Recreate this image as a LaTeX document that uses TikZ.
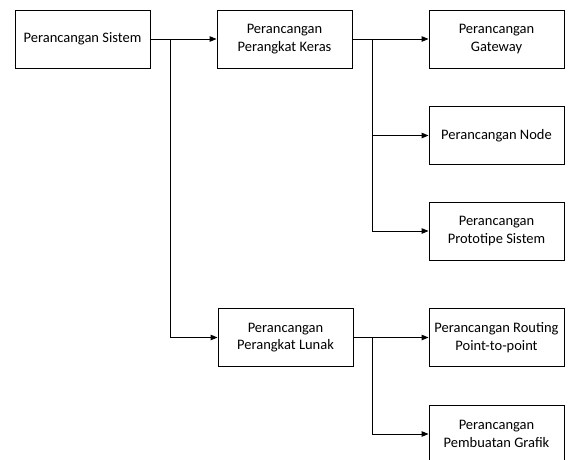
\documentclass[tikz,border=0pt]{standalone}
\usepackage{fontspec}
\setmainfont{Carlito}
\usetikzlibrary{arrows.meta}
\begin{document}
\begin{tikzpicture}[x=1pt,y=-1pt,
  box/.style={draw=black,line width=0.9pt,minimum width=135pt,minimum height=58pt,
    align=center,inner sep=1pt,font=\fontsize{14.5pt}{17.5pt}\selectfont,anchor=center},
  arr/.style={line width=1pt,-{Triangle[length=7pt,width=5.5pt]}}]
\clip (0,0) rectangle (569,459);
\fill[white] (0,0) rectangle (569,459);
\node[box] (s1) at (82.5,39) {Perancangan Sistem};
\node[box] (keras) at (284.5,39) {Perancangan\\Perangkat Keras};
\node[box] (gw) at (496.5,39) {Perancangan\\Gateway};
\node[box] (nd) at (496.5,135.5) {Perancangan Node};
\node[box] (pt) at (496.5,231) {Perancangan\\Prototipe Sistem};
\node[box] (lunak) at (285.5,337.5) {Perancangan\\Perangkat Lunak};
\node[box] (rt) at (496.5,337.5) {Perancangan Routing\\Point-to-point};
\node[box] (gr) at (496.5,434) {Perancangan\\Pembuatan Grafik};
\coordinate (j1) at (170,39);
\coordinate (j2) at (372,39);
\coordinate (j3) at (372,337.5);
\draw[arr] (s1.east) -- (keras.west);
\draw[arr] (j1) |- (lunak.west);
\draw[arr] (keras.east) -- (gw.west);
\draw[arr] (j2) |- (nd.west);
\draw[arr] (j2) |- (pt.west);
\draw[arr] (lunak.east) -- (rt.west);
\draw[arr] (j3) |- (gr.west);
\end{tikzpicture}
\end{document}
